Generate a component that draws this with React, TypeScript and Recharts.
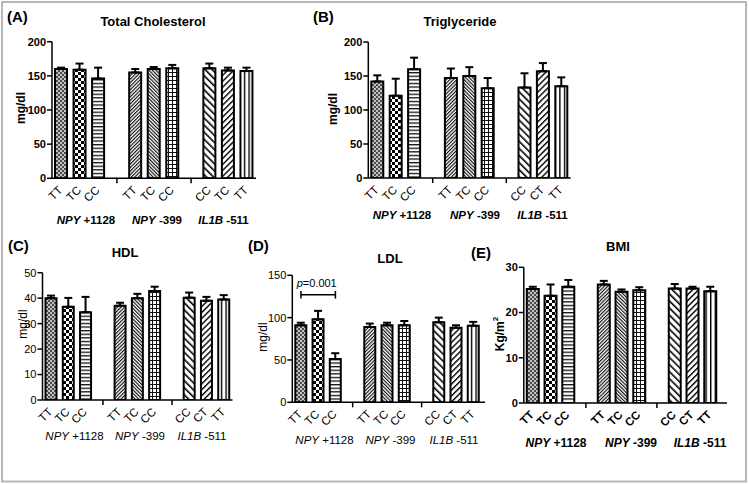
import React from 'react';
import { BarChart, Bar, XAxis, YAxis, ErrorBar, Cell, ReferenceLine, Text } from 'recharts';

const FONT = '"Liberation Sans", Arial, Helvetica, sans-serif';

// ---------- data ----------
const genotypesA = ['TT', 'TC', 'CC', '', 'TT', 'TC', 'CC', '', 'CC', 'TC', 'TT'];
const genotypesB = ['TT', 'TC', 'CC', '', 'TT', 'TC', 'CC', '', 'CC', 'CT', 'TT'];

const cholMean = [160, 159, 146, null, 155, 160, 161, null, 161, 158, 157];
const cholSem = [2, 9, 16, null, 5, 3, 5, null, 7, 4, 5];

const trigMean = [142, 121, 160, null, 147, 150, 132, null, 133, 157, 135];
const trigSem = [9, 25, 17, null, 14, 13, 15, null, 21, 12, 13];

const hdlMean = [40, 36.6, 34.5, null, 37, 40, 42.8, null, 40.2, 39, 39.5];
const hdlSem = [1, 3.5, 6, null, 1.2, 1.7, 1.7, null, 2, 1.5, 1.7];

const ldlMean = [91, 98, 51, null, 89, 91, 91, null, 94.5, 88, 90.5];
const ldlSem = [3, 10, 7, null, 4, 3, 5, null, 5.5, 3, 4.5];

const bmiMean = [25.2, 23.7, 25.7, null, 26.2, 24.6, 24.9, null, 25.3, 25.3, 24.7];
const bmiSem = [0.5, 2.5, 1.5, null, 0.8, 0.5, 0.7, null, 1, 0.4, 1];

const ticksChol = [0, 50, 100, 150, 200];
const ticksHdl = [0, 10, 20, 30, 40, 50];
const ticksLdl = [0, 50, 100, 150];
const ticksBmi = [0, 10, 20, 30];

const groupGenes = ['NPY', 'NPY', 'IL1B'];
const groupSnps = [' +1128', ' -399', ' -511'];

const ldlPValue = 'p=0.001';
const ldlBracketY = 127;

// ---------- styles ----------
const fills = [
  'url(#pGrayCheck)', 'url(#pChecker)', 'url(#pHoriz)', 'none',
  'url(#pDenseFwd)', 'url(#pDenseBack)', 'url(#pGrid)', 'none',
  'url(#pWideBack)', 'url(#pWideFwd)', 'url(#pVert)',
];

function buildRows(labels: string[], means: (number | null)[], sems: (number | null)[]) {
  return labels.map((g, i) => ({
    key: `s${i}`,
    genotype: g,
    mean: means[i],
    sem: sems[i] == null ? undefined : [0, sems[i]],
  }));
}

function GenoTick(props: any) {
  const { payload, labels, bold } = props;
  const x = Number(props.x);
  const y = Number(props.y);
  const idx = parseInt(String(payload?.value ?? 's0').slice(1), 10);
  const label = labels[idx];
  if (!label) {
    return <line x1={x} y1={y} x2={x} y2={y + 5} stroke="#000" strokeWidth={1.5} />;
  }
  return (
    <Text
      x={x + 2}
      y={y + 12.5}
      angle={-45}
      textAnchor="end"
      verticalAnchor="end"
      fontSize={11.5}
      fontFamily={FONT}
      fontWeight={bold ? 'bold' : 'normal'}
      fill="#000"
    >
      {label}
    </Text>
  );
}

type Box = { x: number; y: number; w: number; h: number };
type Plot = { left: number; right: number; top: number; bottom: number };

function Panel(props: {
  box: Box;
  plot: Plot;
  domain: [number, number];
  ticks: number[];
  barSize: number;
  labels: string[];
  means: (number | null)[];
  sems: (number | null)[];
  bold: boolean;
  boldTicks?: boolean;
  padRight?: number;
  extra?: React.ReactNode;
}) {
  const { box, plot, domain, ticks, barSize, labels, means, sems, bold, boldTicks = false, padRight = 0, extra } = props;
  const YW = 30;
  const XH = 30;
  const rows = buildRows(labels, means, sems);
  const margin = {
    left: plot.left - box.x - YW,
    right: box.x + box.w - plot.right,
    top: plot.top - box.y,
    bottom: box.y + box.h - plot.bottom - XH,
  };
  return (
    <div style={{ position: 'absolute', left: box.x, top: box.y }}>
      <BarChart width={box.w} height={box.h} data={rows} margin={margin}>
        <XAxis
          dataKey="key"
          type="category"
          height={XH}
          interval={0}
          tickLine={false}
          tickSize={0}
          tickMargin={0}
          axisLine={{ stroke: '#000', strokeWidth: 1.5 }}
          tick={(p: any) => <GenoTick {...p} labels={labels} bold={boldTicks} />}
          padding={{ left: 0, right: padRight }}
        />
        <YAxis
          width={YW}
          type="number"
          domain={domain}
          ticks={ticks}
          interval={0}
          allowDataOverflow
          tickSize={5}
          tickMargin={1}
          tickLine={{ stroke: '#000', strokeWidth: 1.5 }}
          axisLine={{ stroke: '#000', strokeWidth: 1.5 }}
          tick={{ fill: '#000', fontSize: 11, fontFamily: FONT, fontWeight: bold ? 'bold' : 'normal' }}
        />
        <Bar dataKey="mean" barSize={barSize} stroke="#000" strokeWidth={2} isAnimationActive={false}>
          {rows.map((r, i) => (
            <Cell key={r.key} fill={fills[i]} />
          ))}
          <ErrorBar dataKey="sem" width={4} stroke="#000" strokeWidth={2} direction="y" />
        </Bar>
        {extra}
      </BarChart>
    </div>
  );
}

function GroupLabels({ xs, y, bold, size }: { xs: number[]; y: number; bold: boolean; size: number }) {
  return (
    <g>
      {xs.map((x, i) => (
        <text
          key={i}
          x={x}
          y={y}
          textAnchor="middle"
          fontSize={size}
          fontFamily={FONT}
          fontWeight={bold ? 'bold' : 'normal'}
          fill="#000"
        >
          <tspan fontStyle="italic">{groupGenes[i]}</tspan>
          <tspan>{groupSnps[i]}</tspan>
        </text>
      ))}
    </g>
  );
}

function YLabel({ x, y, bold, children }: { x: number; y: number; bold: boolean; children: React.ReactNode }) {
  return (
    <text
      x={x}
      y={y}
      transform={`rotate(-90, ${x}, ${y})`}
      textAnchor="middle"
      dominantBaseline="central"
      fontSize={12}
      fontFamily={FONT}
      fontWeight={bold ? 'bold' : 'normal'}
      fill="#000"
    >
      {children}
    </text>
  );
}

export default function App() {
  const letter = { fontSize: 15, fontFamily: FONT, fontWeight: 'bold' as const, fill: '#000' };
  const title = {
    fontSize: 13,
    fontFamily: FONT,
    fontWeight: 'bold' as const,
    fill: '#000',
    textAnchor: 'middle' as const,
  };

  const bracket = [
    <ReferenceLine
      key="b0"
      segment={[{ x: 's0', y: ldlBracketY }, { x: 's2', y: ldlBracketY }]}
      stroke="#000"
      strokeWidth={1.5}
      ifOverflow="visible"
    />,
    <ReferenceLine
      key="b1"
      segment={[{ x: 's0', y: ldlBracketY - 4.5 }, { x: 's0', y: ldlBracketY + 4.5 }]}
      stroke="#000"
      strokeWidth={1.5}
      ifOverflow="visible"
    />,
    <ReferenceLine
      key="b2"
      segment={[{ x: 's2', y: ldlBracketY - 4.5 }, { x: 's2', y: ldlBracketY + 4.5 }]}
      stroke="#000"
      strokeWidth={1.5}
      ifOverflow="visible"
    />,
  ];

  return (
    <div style={{ position: 'absolute', left: 0, top: 0, width: 749, height: 484, background: '#fff', overflow: 'hidden' }}>
      <svg width={0} height={0} style={{ position: 'absolute' }}>
        <defs>
          <pattern id="pGrayCheck" width="4" height="4" patternUnits="userSpaceOnUse">
            <rect width="4" height="4" fill="#c4c4c4" />
            <rect width="2" height="2" fill="#4a4a4a" />
            <rect x="2" y="2" width="2" height="2" fill="#4a4a4a" />
          </pattern>
          <pattern id="pChecker" width="6" height="6" patternUnits="userSpaceOnUse">
            <rect width="6" height="6" fill="#fff" />
            <rect width="3" height="3" fill="#000" />
            <rect x="3" y="3" width="3" height="3" fill="#000" />
          </pattern>
          <pattern id="pHoriz" width="4" height="3.6" patternUnits="userSpaceOnUse">
            <rect width="4" height="3.6" fill="#fff" />
            <rect width="4" height="1.3" fill="#111" />
          </pattern>
          <pattern id="pDenseFwd" width="2.5" height="10" patternUnits="userSpaceOnUse" patternTransform="rotate(45)">
            <rect width="2.5" height="10" fill="#fff" />
            <rect width="1.15" height="10" fill="#111" />
          </pattern>
          <pattern id="pDenseBack" width="2.5" height="10" patternUnits="userSpaceOnUse" patternTransform="rotate(-45)">
            <rect width="2.5" height="10" fill="#fff" />
            <rect width="1.15" height="10" fill="#111" />
          </pattern>
          <pattern id="pGrid" width="4" height="4" patternUnits="userSpaceOnUse">
            <rect width="4" height="4" fill="#fff" />
            <rect width="4" height="1" fill="#111" />
            <rect width="1" height="4" fill="#111" />
          </pattern>
          <pattern id="pWideBack" width="5" height="10" patternUnits="userSpaceOnUse" patternTransform="rotate(-45)">
            <rect width="5" height="10" fill="#fff" />
            <rect width="1.6" height="10" fill="#000" />
          </pattern>
          <pattern id="pWideFwd" width="4.2" height="10" patternUnits="userSpaceOnUse" patternTransform="rotate(45)">
            <rect width="4.2" height="10" fill="#fff" />
            <rect width="1.4" height="10" fill="#000" />
          </pattern>
          <pattern id="pVert" width="4.6" height="10" patternUnits="userSpaceOnUse">
            <rect width="4.6" height="10" fill="#fff" />
            <rect width="1.4" height="10" fill="#000" />
          </pattern>
        </defs>
      </svg>

      {/* (A) Total Cholesterol */}
      <Panel
        box={{ x: 0, y: 0, w: 300, h: 230 }}
        plot={{ left: 52, right: 256, top: 41.7, bottom: 178.3 }}
        domain={[0, 200]}
        ticks={ticksChol}
        barSize={12}
        labels={genotypesA}
        means={cholMean}
        sems={cholSem}
        bold
      />
      {/* (B) Triglyceride */}
      <Panel
        box={{ x: 320, y: 0, w: 300, h: 230 }}
        plot={{ left: 368.3, right: 570.7, top: 42, bottom: 178 }}
        domain={[0, 200]}
        ticks={ticksChol}
        barSize={12}
        labels={genotypesB}
        means={trigMean}
        sems={trigSem}
        bold
      />
      {/* (C) HDL */}
      <Panel
        box={{ x: 0, y: 240, w: 250, h: 220 }}
        plot={{ left: 42.5, right: 232.5, top: 272.7, bottom: 400 }}
        domain={[0, 50]}
        ticks={ticksHdl}
        barSize={11}
        labels={genotypesB}
        means={hdlMean}
        sems={hdlSem}
        bold={false}
      />
      {/* (D) LDL */}
      <Panel
        box={{ x: 250, y: 240, w: 250, h: 220 }}
        plot={{ left: 292.3, right: 485, top: 275.3, bottom: 402.3 }}
        domain={[0, 150]}
        ticks={ticksLdl}
        barSize={11}
        labels={genotypesB}
        means={ldlMean}
        sems={ldlSem}
        bold={false}
        padRight={3}
        extra={bracket}
      />
      {/* (E) BMI */}
      <Panel
        box={{ x: 480, y: 240, w: 265, h: 220 }}
        plot={{ left: 523.8, right: 727, top: 267.3, bottom: 403 }}
        domain={[0, 30]}
        ticks={ticksBmi}
        barSize={12}
        labels={genotypesB}
        means={bmiMean}
        sems={bmiSem}
        bold
        boldTicks
        padRight={8}
      />

      <svg width={749} height={484} style={{ position: 'absolute', left: 0, top: 0, pointerEvents: 'none' }}>
        <rect x={2} y={2} width={744} height={479.5} fill="none" stroke="#b8b8b8" strokeWidth={2} />

        <text x={7} y={22} {...letter}>(A)</text>
        <text x={313} y={22} {...letter}>(B)</text>
        <text x={8} y={251} {...letter}>(C)</text>
        <text x={248} y={251} {...letter}>(D)</text>
        <text x={471} y={258} {...letter}>(E)</text>

        <text x={153} y={25.5} {...title}>Total Cholesterol</text>
        <text x={460} y={25.5} {...title}>Triglyceride</text>
        <text x={125} y={256.5} {...title}>HDL</text>
        <text x={390} y={262.5} {...title}>LDL</text>
        <text x={618} y={251} {...title}>BMI</text>

        <YLabel x={21} y={108} bold>mg/dl</YLabel>
        <YLabel x={333} y={109} bold>mg/dl</YLabel>
        <YLabel x={22.5} y={324} bold={false}>mg/dl</YLabel>
        <YLabel x={263} y={337} bold={false}>mg/dl</YLabel>
        <YLabel x={500} y={334} bold>
          <tspan>Kg/m</tspan>
          <tspan dy={-5} fontSize={8}>2</tspan>
        </YLabel>

        <GroupLabels xs={[86, 157, 223.5]} y={224} bold size={11.5} />
        <GroupLabels xs={[402, 475, 542.5]} y={219} bold size={11.5} />
        <GroupLabels xs={[74.5, 140, 202]} y={440} bold={false} size={11.5} />
        <GroupLabels xs={[324.5, 390.5, 454]} y={444} bold={false} size={11.5} />
        <GroupLabels xs={[556, 631, 700]} y={447} bold size={12} />

        <text x={316.7} y={287} textAnchor="middle" fontSize={11} fontFamily={FONT} fill="#000">
          <tspan fontStyle="italic">{ldlPValue.slice(0, 1)}</tspan>
          <tspan>{ldlPValue.slice(1)}</tspan>
        </text>
      </svg>
    </div>
  );
}
